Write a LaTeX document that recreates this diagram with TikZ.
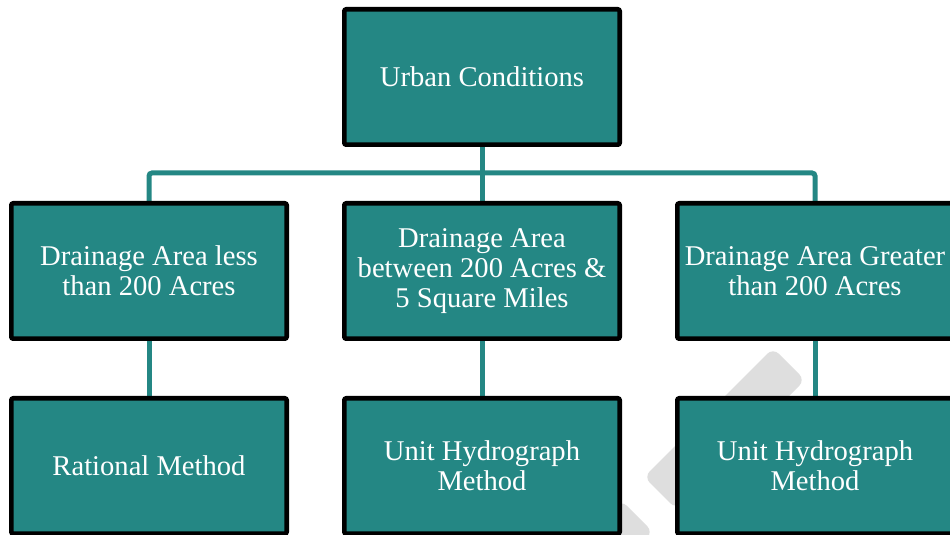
\documentclass[tikz,border=0pt]{standalone}
\usepackage{fontspec}
\setmainfont{Liberation Serif}
\usetikzlibrary{backgrounds}
\definecolor{tealbox}{HTML}{248784}
\definecolor{wmgray}{HTML}{DEDEDE}
\tikzset{
    box/.style={rectangle, draw=black, line width=2.3pt, rounded corners=1pt, fill=tealbox, text=white, align=center, minimum width=137.7pt, minimum height=67.7pt, inner sep=1pt, font=\fontsize{14.3}{15.2}\selectfont},
    link/.style={draw=tealbox, line width=2.5pt, rounded corners=1.5pt},
    wmark/.style={fill=wmgray, rounded corners=4pt},
}

\begin{document}
\begin{tikzpicture}[x=0.5pt,y=-0.5pt]
	\useasboundingbox (0,0) rectangle (950,535);
	\node[box] (urban) at (482,77) {Urban Conditions};
	\node[box] (small) at (149,271) {Drainage Area less\\than 200 Acres};
	\node[box] (mid) at (482,271) {Drainage Area\\between 200 Acres \&\\5 Square Miles};
	\node[box] (large) at (815,271) {Drainage Area Greater\\than 200 Acres};
	\node[box] (rational) at (149,466) {Rational Method};
	\node[box] (unitmid) at (482,466) {Unit Hydrograph\\Method};
	\node[box] (unitlarge) at (815,466) {Unit Hydrograph\\Method};
	\coordinate (split) at (482,173);
	\begin{scope}[on background layer]
		\fill[wmark] (773,348) -- (805,380) -- (676,509) -- (644,477) -- cycle;
		\fill[wmark] (621,500) -- (653,532) -- (600,585) -- (568,553) -- cycle;
		\draw[link] (urban) -- (mid);
		\draw[link] (small.north) |- (split) -| (large.north);
		\draw[link] (small) -- (rational);
		\draw[link] (mid) -- (unitmid);
		\draw[link] (large) -- (unitlarge);
	\end{scope}
\end{tikzpicture}
\end{document}
